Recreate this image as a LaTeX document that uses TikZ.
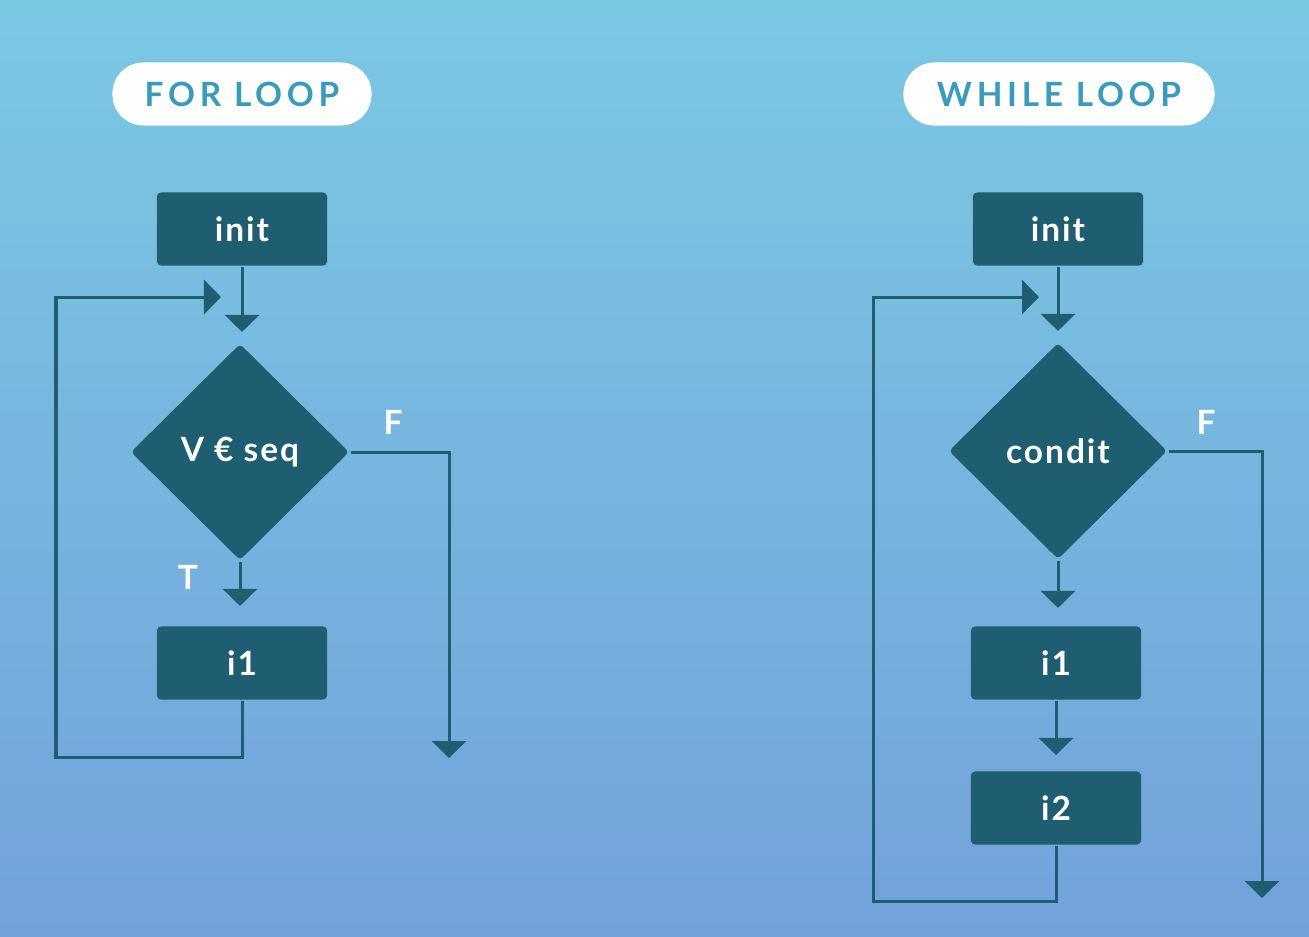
\documentclass[tikz,border=0pt]{standalone}
\usepackage{fontspec}
\setmainfont[LetterSpace=6]{Lato}
\newfontfamily\spacedfont[LetterSpace=14]{Lato}
\usetikzlibrary{shapes.geometric,arrows.meta}
\definecolor{bgtop}{RGB}{122,201,227}
\definecolor{bgbot}{RGB}{116,161,219}
\definecolor{boxteal}{RGB}{30,94,112}
\definecolor{titleblue}{RGB}{58,155,188}
\begin{document}
\begin{tikzpicture}[
        x=0.01cm,
        y=-0.01cm,
        line width=0.03cm,
        font=\fontsize{9.5}{11}\selectfont\bfseries
    ]
    \tikzset{
        titlenode/.style = {rounded corners=0.31cm, fill=white, text=titleblue, minimum width=2.59cm, minimum height=0.63cm, inner sep=0, font=\fontsize{9.5}{11}\selectfont\bfseries\spacedfont},
        stepbox/.style = {rectangle, rounded corners=0.04cm, fill=boxteal, text=white, minimum width=1.7cm, minimum height=0.73cm, inner sep=0},
        decision/.style = {diamond, rounded corners=0.04cm, fill=boxteal, text=white, minimum width=2.19cm, minimum height=2.17cm, inner sep=0},
        branch/.style = {text=white},
        flow/.style = {draw=boxteal, -{Triangle[width=0.34cm, length=0.17cm]}},
    }
        \useasboundingbox (0,0) rectangle (1309,936);
        \shade[top color=bgtop, bottom color=bgbot] (0,0) rectangle (1309,936);
        % for loop
        \node[titlenode] at (242,94) (forttl) {FOR LOOP};
        \node[stepbox] at (242,229) (finit) {init};
        \node[decision] at (240,452) (fcond) {V € seq};
        \node[stepbox] at (242,663) (fbody) {i1};
        \node[branch] at (393,422) (ffalse) {F};
        \node[branch] at (188,577) (ftrue) {T};
        \coordinate (fleft) at (56,757);
        \coordinate (fback) at (221,297);
        \coordinate (fout) at (449,758);
        %
        \draw[flow, shorten >=0.1cm] (finit.south) -- (finit.south |- fcond.north);
        \draw[flow, shorten >=0.19cm] (fcond.south) -- (fcond.south |- fbody.north);
        \draw[flow] (fbody.south) |- (fleft) |- (fback);
        \draw[flow] (fcond.east) -| (fout);
        % while loop
        \node[titlenode, minimum width=3.11cm] at (1059,94) (whttl) {WHILE LOOP};
        \node[stepbox] at (1058,229) (winit) {init};
        \node[decision] at (1058,451) (wcond) {condit};
        \node[stepbox] at (1056,663) (wbodya) {i1};
        \node[stepbox] at (1056,808) (wbodyb) {i2};
        \node[branch] at (1206,422) (wfalse) {F};
        \coordinate (wleft) at (873,901);
        \coordinate (wback) at (1039,297);
        \coordinate (wout) at (1262,898);
        %
        \draw[flow, shorten >=0.1cm] (winit.south) -- (winit.south |- wcond.north);
        \draw[flow, shorten >=0.17cm] (wcond.south) -- (wcond.south |- wbodya.north);
        \draw[flow, shorten >=0.15cm] (wbodya.south) -- (wbodyb.north);
        \draw[flow] (wbodyb.south) |- (wleft) |- (wback);
        \draw[flow] (wcond.east) -| (wout);
    \end{tikzpicture}
\end{document}
